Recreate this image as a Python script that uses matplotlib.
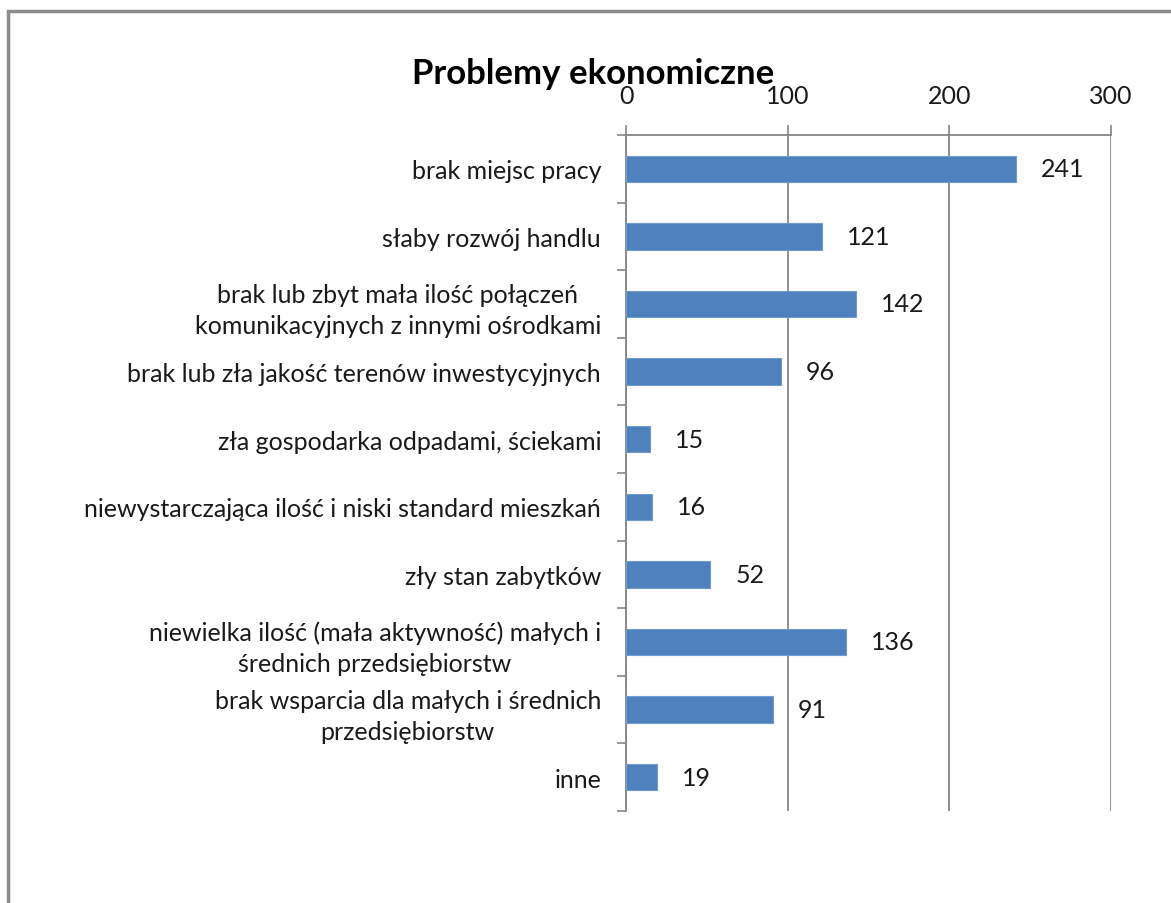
import matplotlib
matplotlib.use("Agg")
import matplotlib.pyplot as plt
from matplotlib.patches import Rectangle
import numpy as np

categories = [
    "brak miejsc pracy",
    "słaby rozwój handlu",
    "brak lub zbyt mała ilość połączeń\nkomunikacyjnych z innymi ośrodkami",
    "brak lub zła jakość terenów inwestycyjnych",
    "zła gospodarka odpadami, ściekami",
    "niewystarczająca ilość i niski standard mieszkań",
    "zły stan zabytków",
    "niewielka ilość (mała aktywność) małych i\nśrednich przedsiębiorstw",
    "brak wsparcia dla małych i średnich\nprzedsiębiorstw",
    "inne",
]
values = [241, 121, 142, 96, 15, 16, 52, 136, 91, 19]
x_ticks = [0, 100, 200, 300]
title = "Problemy ekonomiczne"

plt.rcParams['font.family'] = ['Lato', 'DejaVu Sans']
FS = 18
TXT = '#1a1a1a'
GRID = '#868686'
BAR = '#4F81BD'

fig = plt.figure(figsize=(11.71, 9.04), dpi=100)
W, H = 1171, 904
ax = fig.add_axes([626 / W, 1 - 812 / H, (1111 - 626) / W, (812 - 136) / H])

n = len(categories)
ypos = np.arange(n)
ax.barh(ypos, values, height=0.39, color=BAR, edgecolor='#6f9bd0', linewidth=0.8, zorder=3)
ax.set_xlim(0, 300)
ax.set_ylim(n - 0.5, -0.5)

# x axis on top
ax.xaxis.tick_top()
ax.set_xticks(x_ticks)
ax.set_xticklabels([str(t) for t in x_ticks])
ax.tick_params(axis='x', which='major', length=7.2, width=1.2, color=GRID,
               labelsize=FS, labelcolor=TXT, pad=13)
ax.xaxis.grid(True, color=GRID, linewidth=1.3, zorder=1)

# y axis
ax.set_yticks(ypos)
ax.set_yticklabels(categories, multialignment='center')
ax.set_yticks(np.arange(n + 1) - 0.5, minor=True)
ax.tick_params(axis='y', which='major', length=0, labelsize=FS, labelcolor=TXT, pad=18)
ax.tick_params(axis='y', which='minor', length=6.5, width=1.2, color=GRID)
for lbl in ax.get_yticklabels():
    lbl.set_linespacing(1.42)

for s in ['right', 'bottom']:
    ax.spines[s].set_visible(False)
for s in ['left', 'top']:
    ax.spines[s].set_color(GRID)
    ax.spines[s].set_linewidth(1.3)

# value labels
for y, v in zip(ypos, values):
    ax.annotate(str(v), xy=(v, y), xytext=(18, 0), textcoords='offset points',
                ha='left', va='center', fontsize=FS, color=TXT)

fig.text(593 / W, 1 - 84 / H, title, ha='center', va='baseline',
         fontsize=25, fontweight='bold', color='#000000')

# outer frame (only left and top edges visible in the crop)
fig.patches.append(Rectangle((7.5 / W, -0.2), 2.0, 1.2 - 11.5 / H,
                             transform=fig.transFigure, fill=False,
                             edgecolor='#8c8c8c', linewidth=2.5))

fig.savefig('out.png', dpi=100)
